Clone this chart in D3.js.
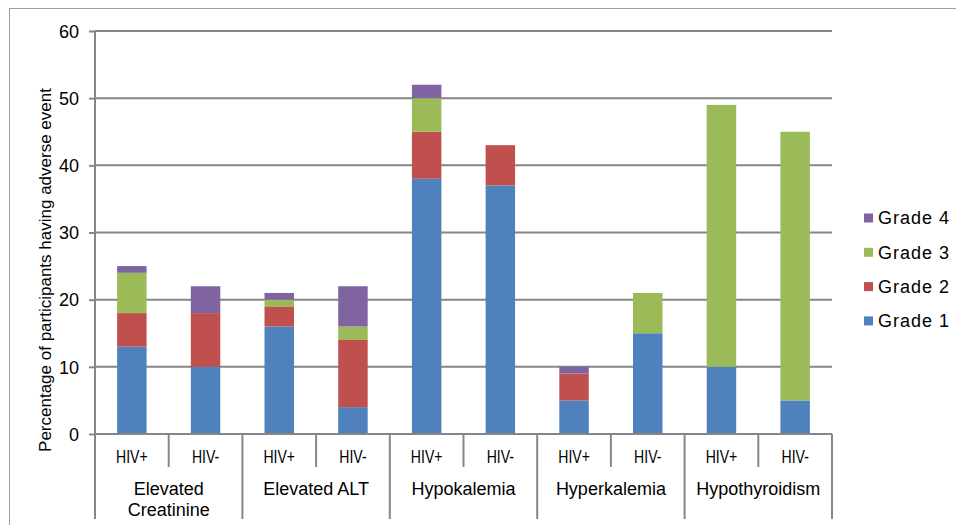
<!DOCTYPE html>
<html><head><meta charset="utf-8">
<script src="https://cdn.jsdelivr.net/npm/d3@7"></script>
<style>body{margin:0;background:#fff}svg{display:block}text{font-family:"Liberation Sans",Arial,sans-serif;fill:#000}</style>
</head><body><svg id="c" width="956" height="525"></svg>
<script>
const groups = ["Elevated Creatinine","Elevated ALT","Hypokalemia","Hyperkalemia","Hypothyroidism"];
const subgroups = ["HIV+","HIV-"];
const grade1 = [13,10,16,4,38,37,5,15,10,5];
const grade2 = [5,8,3,10,7,6,4,0,0,0];
const grade3 = [6,0,1,2,5,0,0,6,39,40];
const grade4 = [1,4,1,6,2,0,1,0,0,0];
const seriesNames = ["Grade 1","Grade 2","Grade 3","Grade 4"];
const colors = ["#4F81BD","#C0504D","#9BBB59","#8064A2"];
const yTicks = [0,10,20,30,40,50,60];

const svg = d3.select("#c");
const L=95,R=832,T=31,B=434;
const labels=[];
groups.forEach((g,gi)=>subgroups.forEach((s,si)=>labels.push({g,s,key:gi+"_"+si})));
const rows = labels.map((d,i)=>({key:d.key,"Grade 1":grade1[i],"Grade 2":grade2[i],"Grade 3":grade3[i],"Grade 4":grade4[i]}));
const x = d3.scaleBand().domain(labels.map(d=>d.key)).range([L,R]).paddingInner(0.6).paddingOuter(0.3);
const y = d3.scaleLinear().domain([0,60]).range([B,T]);
const grey="#868686";

svg.append("rect").attr("x",9.5).attr("y",8.5).attr("width",960).attr("height",530).attr("fill","none").attr("stroke","#a0a0a0");

const ya = d3.axisLeft(y).tickValues(yTicks).tickSize(6).tickPadding(10);
const gy = svg.append("g").attr("transform",`translate(${L},0)`).call(ya);
gy.select(".domain").remove();
gy.selectAll(".tick line").attr("stroke",grey).attr("stroke-width",2);
gy.selectAll(".tick text").attr("font-size",18).attr("dy","0.35em");
svg.append("g").selectAll("line").data(yTicks.filter(v=>v>0)).join("line")
  .attr("x1",L).attr("x2",R).attr("y1",d=>y(d)).attr("y2",d=>y(d))
  .attr("stroke",grey).attr("stroke-width",2);

const stack = d3.stack().keys(seriesNames)(rows);
svg.append("g").selectAll("g").data(stack).join("g").attr("fill",(d,i)=>colors[i])
  .selectAll("rect").data(d=>d.filter(p=>p[1]>p[0])).join("rect")
  .attr("x",d=>x(d.data.key)).attr("width",x.bandwidth())
  .attr("y",d=>y(d[1])).attr("height",d=>y(d[0])-y(d[1]));

svg.append("line").attr("x1",L).attr("x2",R).attr("y1",B).attr("y2",B).attr("stroke",grey).attr("stroke-width",2);
svg.append("line").attr("x1",L).attr("x2",L).attr("y1",T).attr("y2",519).attr("stroke",grey).attr("stroke-width",2);

const gw = (R-L)/groups.length;
labels.forEach((d,i)=>{
  const cx = x(d.key)+x.bandwidth()/2;
  svg.append("text").attr("transform",`translate(${cx},463) scale(0.74,1)`).attr("text-anchor","middle").attr("font-size",19).text(d.s);
});
groups.forEach((g,gi)=>{
  const x0=L+gi*gw;
  svg.append("line").attr("x1",x0+gw/2).attr("x2",x0+gw/2).attr("y1",B).attr("y2",467).attr("stroke",grey).attr("stroke-width",2);
  svg.append("line").attr("x1",x0+gw).attr("x2",x0+gw).attr("y1",B).attr("y2",519).attr("stroke",grey).attr("stroke-width",2);
  const parts = g==="Elevated Creatinine"?["Elevated","Creatinine"]:[g];
  parts.forEach((p,pi)=>svg.append("text").attr("x",x0+gw/2).attr("y",495+pi*21).attr("text-anchor","middle").attr("font-size",18).text(p));
});

svg.append("text").attr("transform","translate(51,270) rotate(-90)").attr("text-anchor","middle").attr("font-size",17)
  .text("Percentage of participants having adverse event");

const lg = svg.append("g");
[3,2,1,0].forEach((si,k)=>{
  const yy = 218+k*34.3;
  lg.append("rect").attr("x",864).attr("y",yy-4.5).attr("width",9).attr("height",9).attr("fill",colors[si]);
  lg.append("text").attr("x",878).attr("y",yy).attr("dy","0.36em").attr("font-size",18).attr("letter-spacing",1).text(seriesNames[si]);
});
</script></body></html>
